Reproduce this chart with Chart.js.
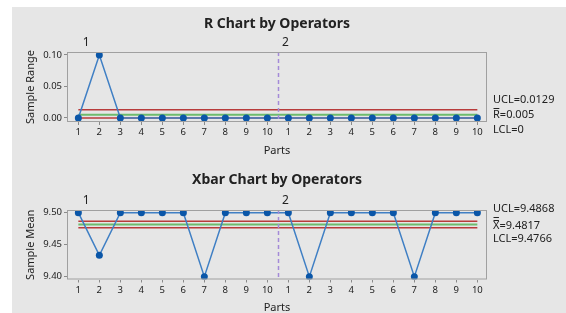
<!DOCTYPE html>
<html>
<head>
<meta charset="utf-8">
<script src="https://cdn.jsdelivr.net/npm/chart.js@4.4.1/dist/chart.umd.min.js"></script>
<style>
  html, body { margin:0; padding:0; background:#fff; }
  body { width:566px; height:313px; position:relative; overflow:hidden; }
  #bg { position:absolute; left:12px; top:7px; width:554px; height:306px; background:#e6e6e6; }
  canvas { position:absolute; left:0; }
  #rChart { top:0; }
  #xChart { top:160px; }
</style>
</head>
<body>
<div id="bg"></div>
<canvas id="rChart" width="566" height="160"></canvas>
<canvas id="xChart" width="566" height="153"></canvas>
<script>
// data
const partLabels = ['1','2','3','4','5','6','7','8','9','10'];
const operators  = ['1','2'];
const rValues    = [0,0.1,0,0,0,0,0,0,0,0,  0,0,0,0,0,0,0,0,0,0];
const xbarValues = [9.5,9.4333,9.5,9.5,9.5,9.5,9.4,9.5,9.5,9.5,  9.5,9.4,9.5,9.5,9.5,9.5,9.4,9.5,9.5,9.5];
const rLimits    = [0.0129, 0.005, 0];          // UCL, centre, LCL
const xbarLimits = [9.4868, 9.4817, 9.4766];
const rLimitText = ['UCL=0.0129', 'R=0.005', 'LCL=0'];
const xLimitText = ['UCL=9.4868', 'X=9.4817', 'LCL=9.4766'];
const rTicks     = [0, 0.05, 0.10];
const xbarTicks  = [9.40, 9.45, 9.50];

const FONT = "'Noto Sans','Open Sans',sans-serif";
const TXT = '#222';
const RED = '#b83b3b', GREEN = '#6dbb6d', BLUE = '#3f7fc4', DOT = '#0a56a8';

const n = partLabels.length * operators.length;
const idx = Array.from({length:n}, (_, i) => i);

function limitSet(v, color, w) {
  return { data:[{x:0,y:v},{x:n-1,y:v}], borderColor:color, borderWidth:w, pointRadius:0, order:5 };
}

const deco = {
  id:'deco',
  afterDatasetsDraw(chart, args, o) {
    const {ctx, chartArea:a, scales:{x}} = chart;
    ctx.save();
    // operator divider
    const dx = Math.round(x.getPixelForValue(partLabels.length - 0.5)) + 0.5;
    ctx.strokeStyle = '#a48ad8'; ctx.lineWidth = 1.5; ctx.setLineDash([4,3]);
    ctx.beginPath(); ctx.moveTo(dx, a.top); ctx.lineTo(dx, a.bottom); ctx.stroke();
    ctx.setLineDash([]);
    // plot box
    ctx.strokeStyle = '#a0a0a0'; ctx.lineWidth = 1;
    ctx.strokeRect(a.left + 0.5, a.top + 0.5, a.right - a.left - 1, a.bottom - a.top - 1);
    ctx.fillStyle = TXT; ctx.textBaseline = 'middle';
    // title
    ctx.textAlign = 'center';
    ctx.font = `bold 14px ${FONT}`;
    ctx.fillText(o.title, (a.left + a.right) / 2, o.titleY);
    // operator labels
    ctx.font = `12px ${FONT}`;
    ctx.fillText(operators[0], x.getPixelForValue(0.37), a.top - 9);
    ctx.fillText(operators[1], x.getPixelForValue(partLabels.length - 0.14), a.top - 9);
    // axis titles
    ctx.font = `11px ${FONT}`;
    ctx.fillText('Parts', (a.left + a.right) / 2, o.partsY);
    ctx.save();
    ctx.translate(31, (a.top + a.bottom) / 2); ctx.rotate(-Math.PI / 2);
    ctx.fillText(o.yTitle, 0, 0);
    ctx.restore();
    // limit labels
    ctx.textAlign = 'left';
    ctx.font = `11px ${FONT}`;
    const lx = 493;
    o.limits.forEach((t, i) => {
      const y = o.limitY[i];
      ctx.fillText(t, lx, y);
      if (i === 1) {
        const w = ctx.measureText(t[0]).width;
        ctx.lineWidth = 1; ctx.strokeStyle = TXT;
        const bars = o.doubleBar ? [-9, -6] : [-7];
        bars.forEach(b => { ctx.beginPath(); ctx.moveTo(lx + 0.5, Math.round(y + b) + 0.5); ctx.lineTo(lx + w - 0.5, Math.round(y + b) + 0.5); ctx.stroke(); });
      }
    });
    ctx.restore();
  }
};

function makeChart(id, values, limits, ticks, yMin, yMax, fmt, padTop, xHeight, opts) {
  return new Chart(document.getElementById(id), {
    type:'line',
    data:{ datasets:[
      { data:values.map((v, i) => ({x:i, y:v})), borderColor:BLUE, borderWidth:1.5,
        pointRadius:3.5, pointBackgroundColor:DOT, pointBorderColor:DOT, pointBorderWidth:0, order:1 },
      limitSet(limits[0], RED, 1.5),
      limitSet(limits[1], GREEN, 2),
      limitSet(limits[2], RED, 1.5),
    ]},
    options:{
      responsive:false, animation:false, events:[],
      layout:{ padding:{ left:0, right:79, top:padTop, bottom:0 } },
      plugins:{ legend:{display:false}, tooltip:{enabled:false}, deco:opts },
      scales:{
        x:{ type:'linear', min:-0.54, max:n - 0.54,
            afterBuildTicks: s => { s.ticks = idx.map(v => ({value:v})); },
            afterFit: s => { s.height = xHeight; },
            grid:{ drawOnChartArea:false, tickLength:3, color:'#8a8a8a' }, border:{display:false},
            ticks:{ color:TXT, font:{family:FONT, size:9.5}, padding:2, maxRotation:0, autoSkip:false,
                    callback: v => partLabels[v % partLabels.length] } },
        y:{ min:yMin, max:yMax,
            afterBuildTicks: s => { s.ticks = ticks.map(v => ({value:v})); },
            afterFit: s => { s.width = 67; },
            grid:{ drawOnChartArea:false, tickLength:3, color:'#8a8a8a' }, border:{display:false},
            ticks:{ color:TXT, font:{family:FONT, size:9.5}, padding:2, callback: v => v.toFixed(fmt) } }
      }
    },
    plugins:[deco]
  });
}

makeChart('rChart', rValues, rLimits, rTicks, -0.00635, 0.10476, 2, 52, 38,
  { title:'R Chart by Operators', titleY:24, partsY:151, yTitle:'Sample Range',
    limits:rLimitText, limitY:[100, 115, 130], doubleBar:false });

makeChart('xChart', xbarValues, xbarLimits, xbarTicks, 9.3956, 9.5042, 2, 50, 33.5,
  { title:'Xbar Chart by Operators', titleY:20, partsY:148, yTitle:'Sample Mean',
    limits:xLimitText, limitY:[49, 66, 79], doubleBar:true });
</script>
</body>
</html>
